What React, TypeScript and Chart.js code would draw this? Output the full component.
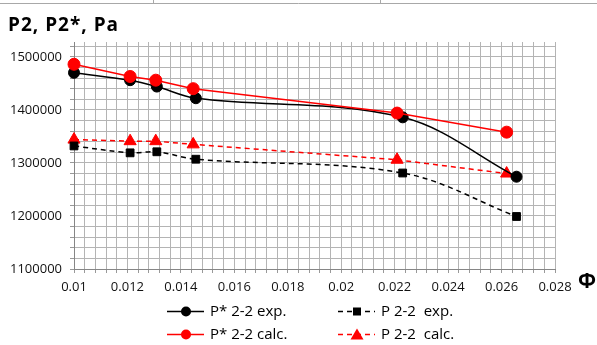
import React, { useEffect, useRef } from "react";
import { Chart, registerables } from "chart.js";
Chart.register(...registerables);

const W = 597;
const H = 345;

const TITLE = "P2, P2*, Pa";
const X_TITLE = "Φ";

const X_EXP_STAR = [0.01, 0.0121, 0.0131, 0.01456, 0.0223, 0.02656];
const Y_EXP_STAR = [1470000, 1456000, 1444000, 1422000, 1386000, 1274000];
const X_CALC_STAR = [0.01, 0.0121, 0.01306, 0.01446, 0.02209, 0.02619];
const Y_CALC_STAR = [1486000, 1463000, 1456000, 1440000, 1394000, 1358000];
const X_EXP = [0.01, 0.0121, 0.0131, 0.01456, 0.0223, 0.02656];
const Y_EXP = [1332000, 1319000, 1321000, 1307000, 1281000, 1199000];
const X_CALC = [0.01, 0.0121, 0.01306, 0.01446, 0.02209, 0.02619];
const Y_CALC = [1344000, 1341000, 1341000, 1335000, 1306000, 1280000];

const SERIES_LABELS = ["P* 2-2 exp.", "P* 2-2 calc.", "P 2-2  exp.", "P 2-2  calc."];

const X_MIN = 0.01;
const X_MAX = 0.028;
const X_MINOR = 0.0004;
const Y_MIN = 1100000;
const Y_MAX = 1528000;
const Y_MINOR = 20000;
const Y_TOP_TICK = 1520000;

const FONT = '"Open Sans", "DejaVu Sans", sans-serif';

const pts = (xs: number[], ys: number[]) => xs.map((x, i) => ({ x, y: ys[i] }));

function drawMarker(c: CanvasRenderingContext2D, style: string, x: number, y: number, color: string) {
  c.fillStyle = color;
  c.beginPath();
  if (style === "circle") {
    c.arc(x, y, 5, 0, Math.PI * 2);
  } else if (style === "rect") {
    c.rect(x - 4, y - 4, 8, 8);
  } else {
    c.moveTo(x, y - 6);
    c.lineTo(x + 6.5, y + 5);
    c.lineTo(x - 6.5, y + 5);
    c.closePath();
  }
  c.fill();
}

const decor = {
  id: "decor",
  beforeDraw(chart: any) {
    const c = chart.ctx as CanvasRenderingContext2D;
    c.save();
    c.fillStyle = "#fff";
    c.fillRect(0, 0, chart.width, chart.height);
    c.restore();
  },
  afterDraw(chart: any) {
    const c = chart.ctx as CanvasRenderingContext2D;
    c.save();
    // top border fragment
    c.strokeStyle = "#a8a8a8";
    c.lineWidth = 1;
    c.beginPath();
    c.moveTo(0, 3.5);
    c.lineTo(W, 3.5);
    c.moveTo(153.5, 0);
    c.lineTo(153.5, 3);
    c.moveTo(380.5, 0);
    c.lineTo(380.5, 3);
    c.stroke();

    // title
    c.fillStyle = "#000";
    c.font = `bold 19px ${FONT}`;
    c.textBaseline = "alphabetic";
    c.textAlign = "left";
    (c as any).letterSpacing = "1px";
    c.fillText(TITLE, 8, 31);
    (c as any).letterSpacing = "0px";

    // x axis title
    c.font = `bold 21px ${FONT}`;
    c.textBaseline = "middle";
    c.fillText(X_TITLE, 578, 282);

    // legend
    const colX = [167, 338];
    const rowY = [311, 334];
    const items = [
      { label: SERIES_LABELS[0], color: "#000", dash: false, style: "circle", col: 0, row: 0 },
      { label: SERIES_LABELS[1], color: "#ff0000", dash: false, style: "circle", col: 0, row: 1 },
      { label: SERIES_LABELS[2], color: "#000", dash: true, style: "rect", col: 1, row: 0 },
      { label: SERIES_LABELS[3], color: "#ff0000", dash: true, style: "triangle", col: 1, row: 1 },
    ];
    c.font = `15px ${FONT}`;
    for (const it of items) {
      const x0 = colX[it.col];
      const y = rowY[it.row];
      c.strokeStyle = it.color;
      c.lineWidth = 1.5;
      c.setLineDash(it.dash ? [5, 4] : []);
      c.beginPath();
      c.moveTo(x0, y + 0.5);
      c.lineTo(x0 + 37, y + 0.5);
      c.stroke();
      c.setLineDash([]);
      drawMarker(c, it.style, x0 + 19, y + 0.5, it.color);
      c.fillStyle = "#000";
      c.textBaseline = "middle";
      c.fillText(it.label, x0 + 43, y + 1);
    }
    c.restore();
  },
};

export default function App() {
  const ref = useRef<HTMLCanvasElement>(null);
  useEffect(() => {
    const canvas = ref.current!;
    const chart = new Chart(canvas, {
      type: "line",
      data: {
        datasets: [
          {
            label: SERIES_LABELS[0],
            data: pts(X_EXP_STAR, Y_EXP_STAR),
            borderColor: "#000",
            backgroundColor: "#000",
            borderWidth: 1.5,
            pointStyle: "circle",
            pointRadius: 5.5,
            pointBorderWidth: 1,
            tension: 0.35,
            clip: false,
            order: 1,
          },
          {
            label: SERIES_LABELS[1],
            data: pts(X_CALC_STAR, Y_CALC_STAR),
            borderColor: "#ff0000",
            backgroundColor: "#ff0000",
            borderWidth: 1.5,
            pointStyle: "circle",
            pointRadius: 6,
            pointBorderWidth: 1,
            tension: 0,
            clip: false,
            order: 0,
          },
          {
            label: SERIES_LABELS[2],
            data: pts(X_EXP, Y_EXP),
            borderColor: "#000",
            backgroundColor: "#000",
            borderWidth: 1.5,
            borderDash: [5, 4],
            pointStyle: "rect",
            pointRadius: 5.5,
            pointBorderWidth: 1,
            tension: 0.35,
            clip: false,
            order: 2,
          },
          {
            label: SERIES_LABELS[3],
            data: pts(X_CALC, Y_CALC),
            borderColor: "#ff0000",
            backgroundColor: "#ff0000",
            borderWidth: 1.5,
            borderDash: [5, 4],
            pointStyle: "triangle",
            pointRadius: 7,
            pointBorderWidth: 1,
            tension: 0,
            clip: false,
            order: 3,
          },
        ] as any,
      },
      options: {
        animation: false,
        responsive: false,
        layout: { padding: { top: 42, right: 42, left: 0, bottom: 0 } },
        plugins: {
          legend: { display: false },
          tooltip: { enabled: false },
          title: { display: false },
        },
        scales: {
          x: {
            type: "linear",
            min: X_MIN,
            max: X_MAX,
            afterBuildTicks: (s: any) => {
              const n = Math.round((X_MAX - X_MIN) / X_MINOR);
              s.ticks = Array.from({ length: n + 1 }, (_, i) => ({ value: +(X_MIN + i * X_MINOR).toFixed(5) }));
            },
            afterFit: (s: any) => {
              s.height = 76;
              s.paddingLeft = 0;
              s.paddingRight = 0;
            },
            ticks: {
              autoSkip: false,
              maxRotation: 0,
              padding: 6,
              color: "#111",
              font: { family: FONT, size: 13 },
              callback: (v: any, i: number) => (i % 5 === 0 ? String(parseFloat(Number(v).toFixed(3))) : ""),
            },
            grid: { color: "#b4b4b4", lineWidth: 1, tickLength: 4, tickColor: "#999" },
            border: { color: "#868686", width: 1 },
          },
          y: {
            type: "linear",
            min: Y_MIN,
            max: Y_MAX,
            afterBuildTicks: (s: any) => {
              const n = Math.round((Y_TOP_TICK - Y_MIN) / Y_MINOR);
              s.ticks = Array.from({ length: n + 1 }, (_, i) => ({ value: Y_MIN + i * Y_MINOR }));
            },
            afterFit: (s: any) => {
              s.width = 74;
              s.paddingTop = 0;
              s.paddingBottom = 0;
            },
            ticks: {
              autoSkip: false,
              padding: 8,
              color: "#111",
              font: { family: FONT, size: 13 },
              callback: (v: any, i: number) => (i % 5 === 0 ? String(v) : ""),
            },
            grid: { color: "#b4b4b4", lineWidth: 1, tickLength: 4, tickColor: "#999" },
            border: { color: "#868686", width: 1 },
          },
        },
      } as any,
      plugins: [decor],
    });
    return () => chart.destroy();
  }, []);
  return (
    <div style={{ position: "absolute", left: 0, top: 0, width: W, height: H, background: "#fff" }}>
      <canvas ref={ref} width={W} height={H} style={{ width: W, height: H, display: "block" }} />
    </div>
  );
}
